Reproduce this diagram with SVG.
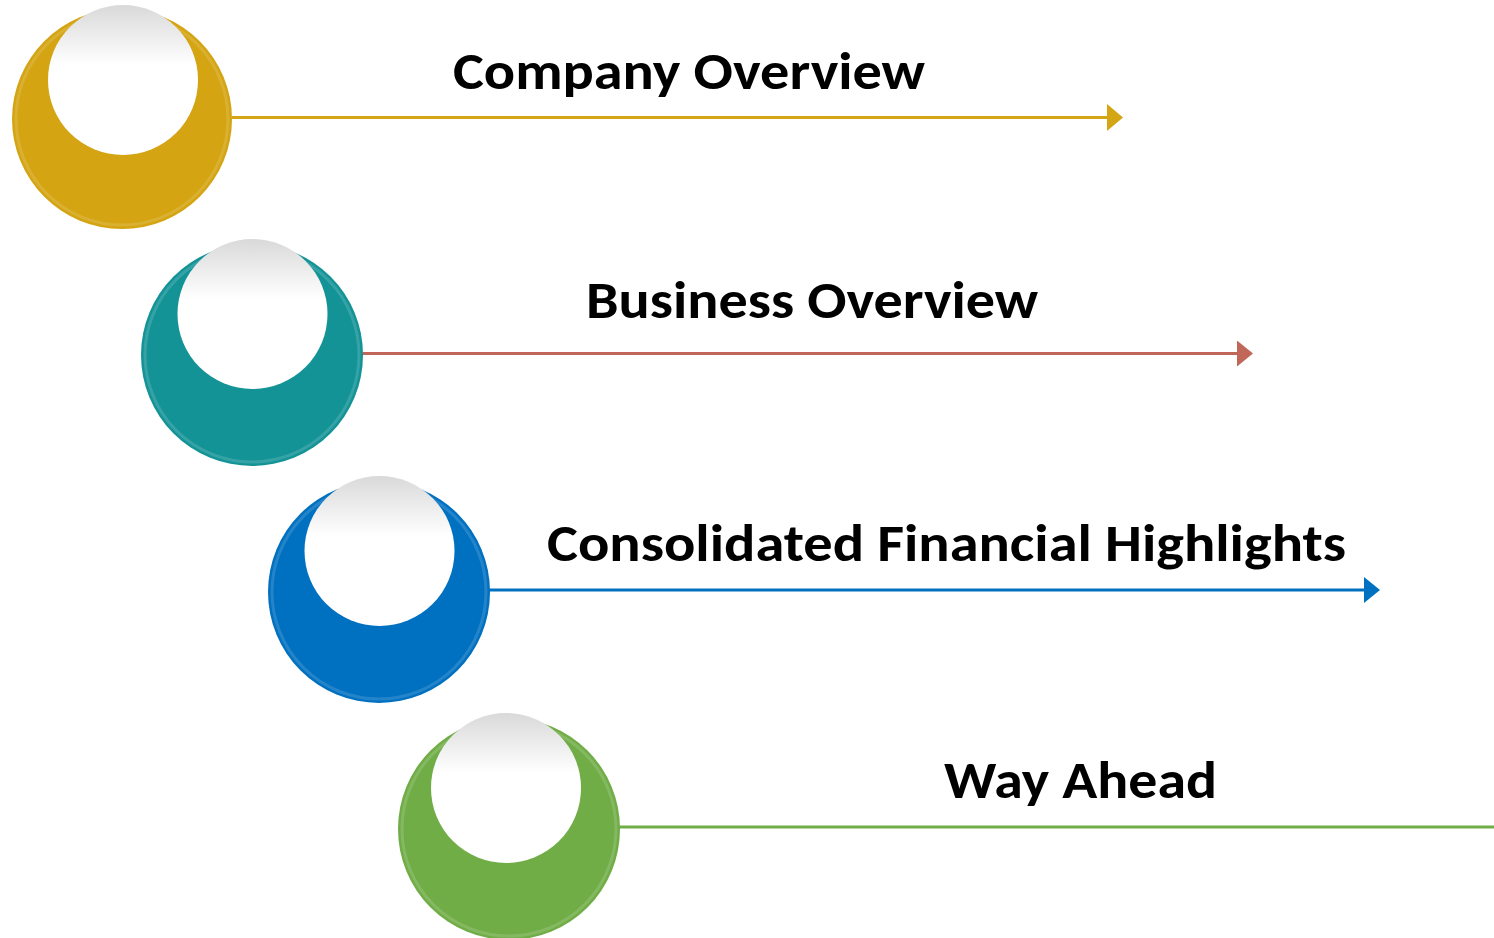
<svg xmlns="http://www.w3.org/2000/svg" width="1494" height="938" viewBox="0 0 1494 938">
<style>
.lbl{font-family:Carlito,"Open Sans","Liberation Sans",sans-serif;font-weight:bold;font-size:53px;fill:#000}
.inner{fill:url(#wg)}
.rim{fill:none;stroke:#ffffff;stroke-opacity:0.14;stroke-width:3}
.ln{stroke-width:3;fill:none}
</style>
<defs>
<linearGradient id="wg" x1="0" y1="0" x2="0" y2="1">
<stop offset="0" stop-color="#d9d9d9"/>
<stop offset="0.4" stop-color="#ffffff"/>
<stop offset="1" stop-color="#ffffff"/>
</linearGradient>
<marker id="ag" markerUnits="userSpaceOnUse" markerWidth="16" markerHeight="27" refX="0" refY="13.5" orient="auto"><path d="M0,0 L16,13.5 L0,27 z" fill="#D4A514"/></marker>
<marker id="ar" markerUnits="userSpaceOnUse" markerWidth="16" markerHeight="26" refX="0" refY="13" orient="auto"><path d="M0,0 L16,13 L0,26 z" fill="#C0675A"/></marker>
<marker id="ab" markerUnits="userSpaceOnUse" markerWidth="16" markerHeight="26" refX="0" refY="13" orient="auto"><path d="M0,0 L16,13 L0,26 z" fill="#0070C0"/></marker>
</defs>
<rect width="1494" height="938" fill="#ffffff"/>
<g id="connectors">
<line class="ln" x1="232" y1="117.5" x2="1107" y2="117.5" stroke="#D4A514" marker-end="url(#ag)"/>
<line class="ln" x1="362" y1="353.5" x2="1237" y2="353.5" stroke="#C0675A" marker-end="url(#ar)"/>
<line class="ln" x1="489" y1="590" x2="1364" y2="590" stroke="#0070C0" marker-end="url(#ab)"/>
<line class="ln" x1="619" y1="827" x2="1494" y2="827" stroke="#70AD47"/>
</g>
<g id="node-company">
<circle cx="122" cy="119" r="110" fill="#D4A412"/>
<circle class="rim" cx="122" cy="119" r="106"/>
<circle class="inner" cx="123" cy="80" r="75"/>
<text class="lbl" x="453" y="89" textLength="472" lengthAdjust="spacingAndGlyphs">Company Overview</text>
</g>
<g id="node-business">
<circle cx="252" cy="355" r="111" fill="#149397"/>
<circle class="rim" cx="252" cy="355" r="107"/>
<circle class="inner" cx="252.5" cy="314" r="75"/>
<text class="lbl" x="586" y="318" textLength="452" lengthAdjust="spacingAndGlyphs">Business Overview</text>
</g>
<g id="node-financial">
<circle cx="379" cy="592" r="111" fill="#0070C0"/>
<circle class="rim" cx="379" cy="592" r="107"/>
<circle class="inner" cx="379.5" cy="551" r="75"/>
<text class="lbl" x="547" y="561" textLength="799" lengthAdjust="spacingAndGlyphs">Consolidated Financial Highlights</text>
</g>
<g id="node-wayahead">
<circle cx="509" cy="829" r="111" fill="#70AD47"/>
<circle class="rim" cx="509" cy="829" r="107"/>
<circle class="inner" cx="506" cy="788" r="75"/>
<text class="lbl" x="944" y="798" textLength="273" lengthAdjust="spacingAndGlyphs">Way Ahead</text>
</g>
</svg>
